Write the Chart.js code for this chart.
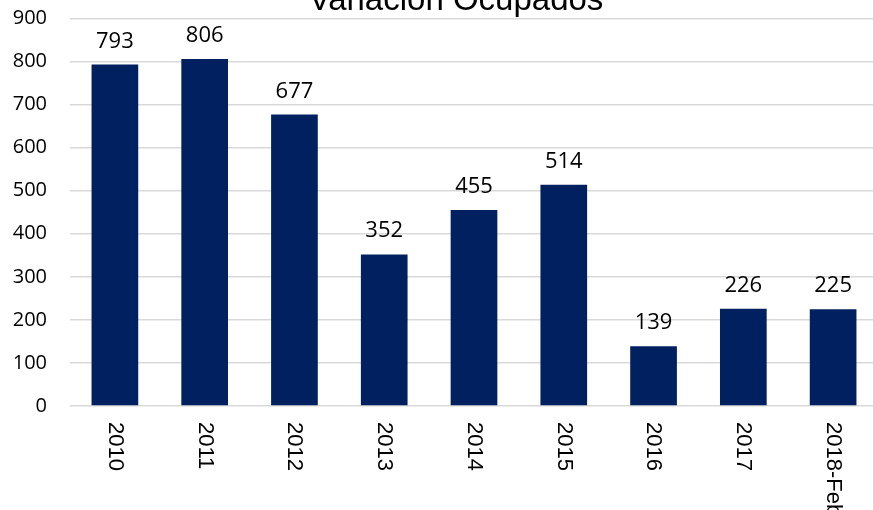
<!DOCTYPE html>
<html>
<head>
<meta charset="utf-8">
<script src="https://cdn.jsdelivr.net/npm/chart.js@4.4.0/dist/chart.umd.min.js"></script>
<style>
html,body{margin:0;padding:0;background:#fff;overflow:hidden;width:873px;height:510px;}
#wrap{position:absolute;left:0;top:0;width:890px;height:510px;}
</style>
</head>
<body>
<div id="wrap"><canvas id="c"></canvas></div>
<script>
const title = 'Variación Ocupados';
const categories = ['2010','2011','2012','2013','2014','2015','2016','2017','2018-Feb'];
const ocupados = [793, 806, 677, 352, 455, 514, 139, 226, 225];
const yTicks = [0,100,200,300,400,500,600,700,800,900];

const barColor = '#002060';
const gridColor = '#d9d9d9';

const overlay = {
  id: 'overlay',
  afterDatasetsDraw(chart) {
    const ctx = chart.ctx;
    const xs = chart.scales.x;
    const ys = chart.scales.y;
    const area = chart.chartArea;
    ctx.save();
    // title (partially above the canvas)
    ctx.fillStyle = '#000';
    ctx.font = '33px "Liberation Sans", Arial, sans-serif';
    ctx.textAlign = 'center';
    ctx.textBaseline = 'alphabetic';
    ctx.fillText(title, 456, 10);
    // value labels
    ctx.font = '22px "Open Sans", sans-serif';
    ctx.fillStyle = '#000';
    ocupados.forEach((v, i) => {
      const x = xs.getPixelForValue(i);
      const y = ys.getPixelForValue(v);
      ctx.fillText(String(v), x, y - 17);
    });
    // rotated category labels (reading top to bottom)
    ctx.font = '22px "Liberation Sans", Arial, sans-serif';
    ctx.textAlign = 'left';
    ctx.textBaseline = 'middle';
    categories.forEach((c, i) => {
      const x = xs.getPixelForValue(i);
      ctx.save();
      ctx.translate(x, area.bottom + 16);
      ctx.rotate(Math.PI / 2);
      ctx.fillText(c, 0, 0);
      ctx.restore();
    });
    ctx.restore();
  }
};

new Chart(document.getElementById('c'), {
  type: 'bar',
  data: {
    labels: categories,
    datasets: [{
      label: title,
      data: ocupados,
      backgroundColor: barColor,
      borderWidth: 0,
      barPercentage: 0.52,
      categoryPercentage: 1.0
    }]
  },
  options: {
    responsive: true,
    maintainAspectRatio: false,
    animation: false,
    layout: { padding: { top: 18.5, right: 12, left: 0, bottom: 0 } },
    plugins: {
      legend: { display: false },
      title: { display: false },
      tooltip: { enabled: false }
    },
    scales: {
      x: {
        grid: { display: false },
        border: { display: false },
        ticks: { display: false },
        afterFit(scale) { scale.height = 104; }
      },
      y: {
        min: 0,
        max: 900,
        afterBuildTicks(scale) { scale.ticks = yTicks.map(v => ({ value: v })); },
        afterFit(scale) { scale.width = 70; scale.paddingTop = 0; scale.paddingBottom = 0; },
        grid: { color: gridColor, lineWidth: 1.5, drawTicks: false },
        border: { display: false },
        ticks: {
          padding: 23,
          color: '#000',
          font: { family: '"Open Sans", sans-serif', size: 20 }
        }
      }
    }
  },
  plugins: [overlay]
});
</script>
</body>
</html>
